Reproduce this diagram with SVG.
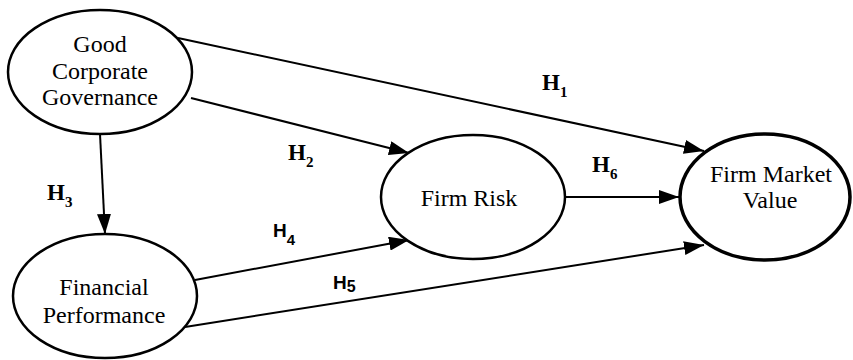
<svg xmlns="http://www.w3.org/2000/svg" width="853" height="360" viewBox="0 0 853 360">
<style>
.node{fill:#fff;stroke:#000;stroke-width:2.5}
.thick{stroke-width:3.5}
.lbl{font-family:"Liberation Serif","Times New Roman",serif;font-size:24px;fill:#000;text-anchor:middle}
.h{font-family:"Liberation Serif","Times New Roman",serif;font-size:23px;font-weight:bold;fill:#000}
.hs{font-family:"Liberation Sans",Arial,sans-serif;font-size:19px;font-weight:bold;fill:#000}
.sub{font-size:15px}
.edge{fill:none;stroke:#000;stroke-width:2;marker-end:url(#arr)}
</style>
<defs>
<marker id="arr" markerUnits="userSpaceOnUse" markerWidth="20" markerHeight="14" refX="20" refY="7" orient="auto">
<path d="M0,0 L20,7 L0,14 z" fill="#000"/>
</marker>
</defs>
<g id="connectors">
<line class="edge" x1="178" y1="38" x2="704" y2="151"/>
<line class="edge" x1="191" y1="98" x2="409" y2="153"/>
<line class="edge" x1="100" y1="134" x2="105" y2="234"/>
<line class="edge" x1="195" y1="280" x2="409" y2="240"/>
<line class="edge" x1="185" y1="327" x2="704" y2="245"/>
<line class="edge" x1="565" y1="197" x2="679" y2="197"/>
</g>
<g id="gcg">
<ellipse class="node" cx="100" cy="72" rx="92" ry="62"/>
<text class="lbl" x="100" y="52">Good</text>
<text class="lbl" x="100" y="79">Corporate</text>
<text class="lbl" x="100" y="105">Governance</text>
</g>
<g id="fp">
<ellipse class="node" cx="105" cy="296" rx="92" ry="62"/>
<text class="lbl" x="104" y="295">Financial</text>
<text class="lbl" x="104" y="323">Performance</text>
</g>
<g id="fr">
<ellipse class="node" cx="473" cy="197" rx="92" ry="62"/>
<text class="lbl" x="469" y="206">Firm Risk</text>
</g>
<g id="fmv">
<ellipse class="node thick" cx="765" cy="197" rx="85" ry="63"/>
<text class="lbl" x="771" y="182">Firm Market</text>
<text class="lbl" x="770" y="208">Value</text>
</g>
<g id="labels">
<text class="h" x="542" y="90">H<tspan class="sub" dy="7">1</tspan></text>
<text class="h" x="288" y="160">H<tspan class="sub" dy="7">2</tspan></text>
<text class="h" x="47" y="200">H<tspan class="sub" dy="7">3</tspan></text>
<text class="hs" x="273" y="237">H<tspan class="sub" dy="8">4</tspan></text>
<text class="hs" x="333" y="289">H<tspan dy="3" font-size="16px">5</tspan></text>
<text class="h" x="592" y="172">H<tspan class="sub" dy="7">6</tspan></text>
</g>
</svg>
